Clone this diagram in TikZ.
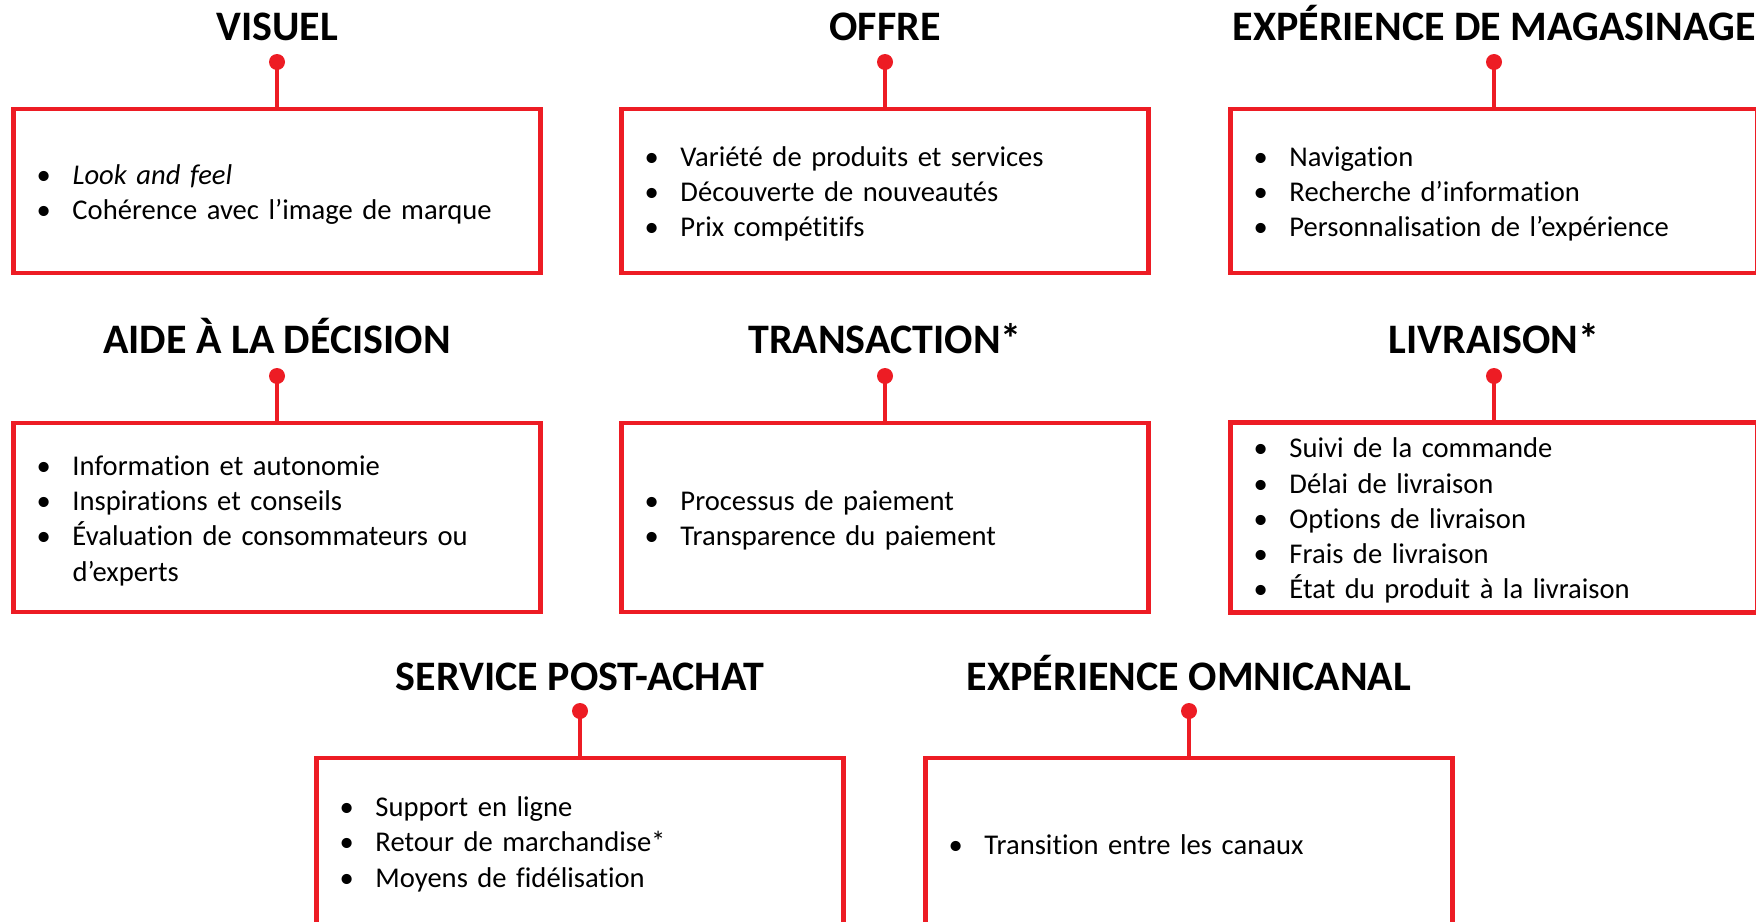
\documentclass[tikz,border=0pt]{standalone}
\usepackage{fontspec}
\setmainfont{Carlito}[Ligatures = {NoCommon}]
\definecolor{rouge}{HTML}{ED1C24}
\newcommand{\puce}[1]{\par\noindent\hangindent=18pt\hangafter=1\makebox[18pt][l]{\textbullet}#1\par}
\newcommand{\fin}{\par\kern4.5pt\hrule height 0pt width 0pt}
\tikzset{
    titre/.style = {anchor = base, inner sep = 0pt, font = \fontsize{21}{25}\selectfont\bfseries},
    boite/.style = {draw = rouge, line width = 2.25pt, minimum width = 263.5pt, inner xsep = 11.5pt, inner ysep = 0pt,
                    text width = 240.5pt, align = left, font = \fontsize{14.3}{17.6}\selectfont},
    pastille/.style = {circle, fill = rouge, inner sep = 0pt, minimum size = 8pt},
    lien/.style = {draw = rouge, line width = 2.25pt}
}
\begin{document}
\begin{tikzpicture}[x = 0.5pt, y = -0.5pt]
        \useasboundingbox (0,0) rectangle (1756,921);
        \node [titre] (visuel-titre) at (277,40) {VISUEL};
        \node [titre] (offre-titre) at (885,40) {OFFRE};
        \node [titre] (magasinage-titre) at (1494,40) {EXPÉRIENCE DE MAGASINAGE};
        \node [titre] (aide-titre) at (277,353) {AIDE À LA DÉCISION};
        \node [titre] (transaction-titre) at (885,353) {TRANSACTION*};
        \node [titre] (livraison-titre) at (1494,353) {LIVRAISON*};
        \node [titre] (postachat-titre) at (580,690) {SERVICE POST-ACHAT};
        \node [titre] (omnicanal-titre) at (1189,690) {EXPÉRIENCE OMNICANAL};

        \node [boite, minimum height = 82pt] (visuel) at (277,191)
            {\puce{\textit{Look and feel}}\puce{Cohérence avec l’image de marque}\fin};
        \node [boite, minimum height = 82pt] (offre) at (885,191)
            {\puce{Variété de produits et services}\puce{Découverte de nouveautés}\puce{Prix compétitifs}\fin};
        \node [boite, minimum height = 82pt] (magasinage) at (1494,191)
            {\puce{Navigation}\puce{Recherche d’information}\puce{Personnalisation de l’expérience}\fin};
        \node [boite, minimum height = 94.5pt] (aide) at (277,517.5)
            {\puce{Information et autonomie}\puce{Inspirations et conseils}\puce{Évaluation de consommateurs ou\newline d’experts}\fin};
        \node [boite, minimum height = 94.5pt] (transaction) at (885,517.5)
            {\puce{Processus de paiement}\puce{Transparence du paiement}\fin};
        \node [boite, minimum height = 94.5pt] (livraison) at (1494,517.5)
            {\puce{Suivi de la commande}\puce{Délai de livraison}\puce{Options de livraison}\puce{Frais de livraison}\puce{État du produit à la livraison}\fin};
        \node [boite, minimum height = 83pt] (postachat) at (580,841)
            {\puce{Support en ligne}\puce{Retour de marchandise*}\puce{Moyens de fidélisation}\fin};
        \node [boite, minimum height = 83pt] (omnicanal) at (1189,841)
            {\puce{Transition entre les canaux}\fin};

        \node [pastille] (visuel-point) at (277,62) {};
        \node [pastille] (offre-point) at (885,62) {};
        \node [pastille] (magasinage-point) at (1494,62) {};
        \node [pastille] (aide-point) at (277,376) {};
        \node [pastille] (transaction-point) at (885,376) {};
        \node [pastille] (livraison-point) at (1494,376) {};
        \node [pastille] (postachat-point) at (580,711) {};
        \node [pastille] (omnicanal-point) at (1189,711) {};

        \draw [lien] (visuel-point.center) -- (visuel.north);
        \draw [lien] (offre-point.center) -- (offre.north);
        \draw [lien] (magasinage-point.center) -- (magasinage.north);
        \draw [lien] (aide-point.center) -- (aide.north);
        \draw [lien] (transaction-point.center) -- (transaction.north);
        \draw [lien] (livraison-point.center) -- (livraison.north);
        \draw [lien] (postachat-point.center) -- (postachat.north);
        \draw [lien] (omnicanal-point.center) -- (omnicanal.north);
    \end{tikzpicture}
\end{document}
